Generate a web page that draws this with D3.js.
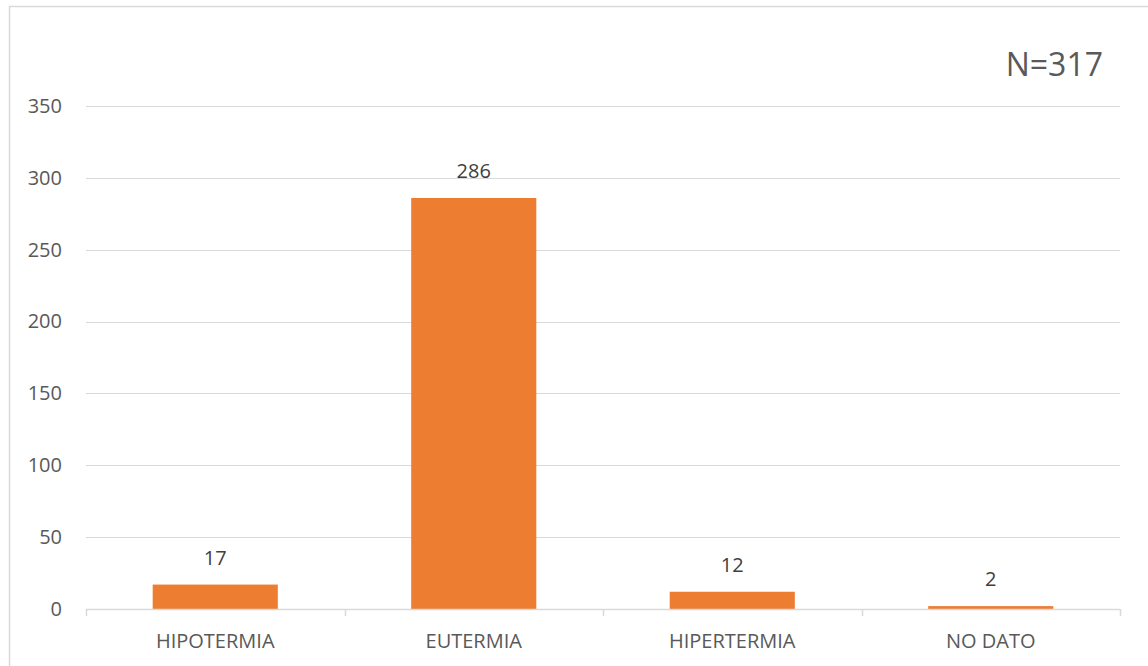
<!DOCTYPE html>
<html>
<head>
<meta charset="utf-8">
<script src="https://cdn.jsdelivr.net/npm/d3@7"></script>
<style>
  html, body { margin: 0; padding: 0; background: #fff; }
  svg { display: block; font-family: "Open Sans", "Liberation Sans", sans-serif; }
</style>
</head>
<body>
<svg id="chart" width="1148" height="666"></svg>
<script>
// Temperature status on admission (counts)
const categories = ["HIPOTERMIA", "EUTERMIA", "HIPERTERMIA", "NO DATO"];
const counts = [17, 286, 12, 2];
const yTicks = [0, 50, 100, 150, 200, 250, 300, 350];
const totalLabel = "N=317";

const svg = d3.select("#chart");
const W = 1148, H = 666;
const plot = { left: 86, right: 1120, top: 106, bottom: 609 };
const gridColor = "#d9d9d9";

// outer frame (left and top edges)
svg.append("path")
  .attr("d", `M9.5,${H} L9.5,6.5 L${W},6.5`)
  .attr("fill", "none")
  .attr("stroke", gridColor)
  .attr("stroke-width", 1.5);

const x = d3.scaleBand().domain(categories).range([plot.left, plot.right]).padding(0);
const y = d3.scaleLinear().domain([0, 350]).range([plot.bottom, plot.top]);

// horizontal gridlines
svg.append("g")
  .selectAll("line")
  .data(yTicks.filter(t => t > 0))
  .join("line")
  .attr("x1", plot.left).attr("x2", plot.right)
  .attr("y1", d => Math.round(y(d)) + 0.5).attr("y2", d => Math.round(y(d)) + 0.5)
  .attr("stroke", gridColor)
  .attr("stroke-width", 1.2);

// y axis labels
const yAxis = d3.axisLeft(y).tickValues(yTicks).tickSize(0).tickPadding(24);
const gy = svg.append("g").attr("transform", `translate(${plot.left},0)`).call(yAxis);
gy.select(".domain").remove();
gy.selectAll("text")
  .attr("fill", "#595959")
  .style("font-size", "20px")
  .style("font-family", "'Open Sans', sans-serif");

// bars
const barW = x.bandwidth() * 0.484;
svg.append("g")
  .selectAll("rect")
  .data(counts)
  .join("rect")
  .attr("x", (d, i) => x(categories[i]) + (x.bandwidth() - barW) / 2)
  .attr("y", d => y(d))
  .attr("width", barW)
  .attr("height", d => plot.bottom - y(d))
  .attr("fill", "#ED7D31");

// x axis baseline with boundary ticks
const boundaries = categories.map(c => x(c)).concat([plot.right]);
const gx = svg.append("g");
gx.append("line")
  .attr("x1", plot.left).attr("x2", plot.right)
  .attr("y1", plot.bottom + 0.5).attr("y2", plot.bottom + 0.5)
  .attr("stroke", gridColor).attr("stroke-width", 1.5);
gx.selectAll("line.tick")
  .data(boundaries)
  .join("line")
  .attr("class", "tick")
  .attr("x1", d => Math.round(d) + 0.5).attr("x2", d => Math.round(d) + 0.5)
  .attr("y1", plot.bottom).attr("y2", plot.bottom + 7)
  .attr("stroke", gridColor).attr("stroke-width", 1.5);

// category labels
svg.append("g")
  .selectAll("text")
  .data(categories)
  .join("text")
  .attr("x", d => x(d) + x.bandwidth() / 2)
  .attr("y", 648)
  .attr("text-anchor", "middle")
  .attr("fill", "#595959")
  .style("font-size", "20px")
  .text(d => d);

// value labels above bars
svg.append("g")
  .selectAll("text")
  .data(counts)
  .join("text")
  .attr("x", (d, i) => x(categories[i]) + x.bandwidth() / 2)
  .attr("y", d => y(d) - 20)
  .attr("text-anchor", "middle")
  .attr("fill", "#404040")
  .style("font-size", "20px")
  .text(d => d);

// total annotation
svg.append("text")
  .attr("x", 1103)
  .attr("y", 76)
  .attr("text-anchor", "end")
  .attr("fill", "#595959")
  .style("font-size", "32px")
  .text(totalLabel);
</script>
</body>
</html>
